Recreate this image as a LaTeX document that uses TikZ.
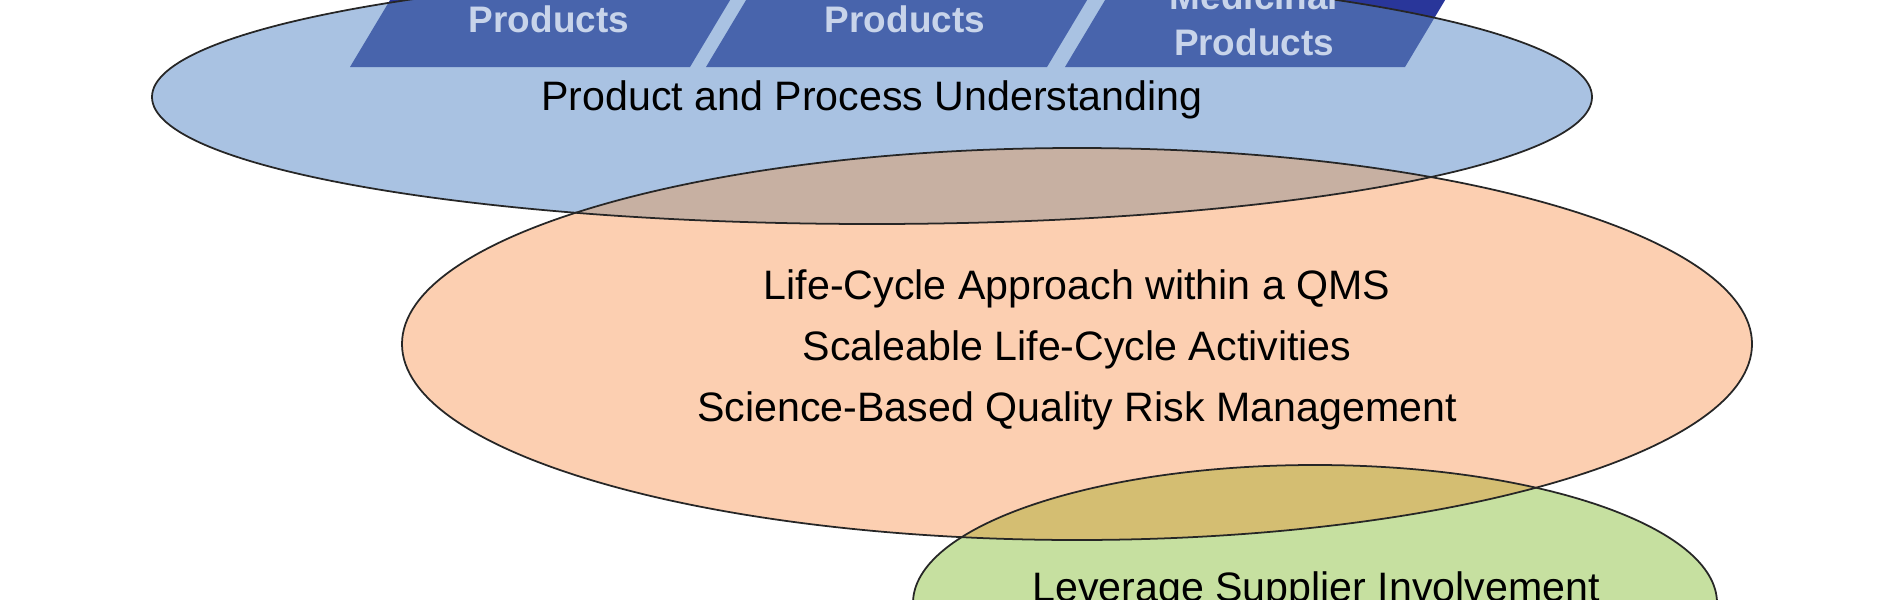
\documentclass[tikz,border=0pt]{standalone}
\usepackage{fontspec}
\setmainfont{Liberation Sans}
\definecolor{bluefill}{HTML}{A9C2E2}
\definecolor{orangefill}{HTML}{FCCFB1}
\definecolor{overlapbo}{HTML}{C7B0A2}
\definecolor{greenfill}{HTML}{C6E0A0}
\definecolor{overlapgo}{HTML}{D4BE72}
\definecolor{pardark}{HTML}{29369A}
\definecolor{parmid}{HTML}{4864AC}
\definecolor{partext}{HTML}{C8D4EA}
\tikzset{
  outline/.style={draw=black!85, line width=0.5pt},
  maintext/.style={inner sep=0pt, anchor=base, font=\fontsize{11.7}{14}\selectfont, text=black},
  partxt/.style={inner sep=0pt, anchor=base, font=\fontsize{10.5}{13}\selectfont\bfseries, text=partext},
}
\begin{document}
\begin{tikzpicture}[x=0.01cm,y=-0.01cm]
\useasboundingbox (0,0) rectangle (1900,600);
\clip (0,0) rectangle (1900,600);
\fill[white] (0,0) rectangle (1900,600);
% parallelograms (dark part outside the ellipse)
\fill[pardark] (350,67) -- (690,67) -- (766,-60) -- (426,-60) -- cycle;
\fill[pardark] (706,67) -- (1047,67) -- (1123,-60) -- (782,-60) -- cycle;
\fill[pardark] (1065,67) -- (1405,67) -- (1481,-60) -- (1141,-60) -- cycle;
% blue ellipse with parallelograms inside
\begin{scope}
  \clip (872,97) ellipse [x radius=720, y radius=127];
  \fill[bluefill] (0,-200) rectangle (1900,600);
  \fill[parmid] (350,67) -- (690,67) -- (766,-60) -- (426,-60) -- cycle;
  \fill[parmid] (706,67) -- (1047,67) -- (1123,-60) -- (782,-60) -- cycle;
  \fill[parmid] (1065,67) -- (1405,67) -- (1481,-60) -- (1141,-60) -- cycle;
\end{scope}
% orange ellipse
\fill[orangefill] (1077,344) ellipse [x radius=675, y radius=196];
\begin{scope}
  \clip (872,97) ellipse [x radius=720, y radius=127];
  \fill[overlapbo] (1077,344) ellipse [x radius=675, y radius=196];
\end{scope}
% green ellipse
\fill[greenfill] (1315,603) ellipse [x radius=402, y radius=138];
\begin{scope}
  \clip (1077,344) ellipse [x radius=675, y radius=196];
  \fill[overlapgo] (1315,603) ellipse [x radius=402, y radius=138];
\end{scope}
% outlines
\draw[outline] (872,97) ellipse [x radius=720, y radius=127];
\draw[outline] (1077,344) ellipse [x radius=675, y radius=196];
\draw[outline] (1315,603) ellipse [x radius=402, y radius=138];
% texts
\node[partxt] (p1) at (549,32) {Products};
\node[partxt] (p2) at (905,32) {Products};
\node[partxt] (m3) at (1254,9) {Medicinal};
\node[partxt] (p3) at (1254,55) {Products};
\node[maintext] (ppu) at (872,110) {Product and Process Understanding};
\node[maintext] (lc1) at (1077,299) {Life-Cycle Approach within a QMS};
\node[maintext] (lc2) at (1077,360) {Scaleable Life-Cycle Activities};
\node[maintext] (lc3) at (1077,421) {Science-Based Quality Risk Management};
\node[maintext] (lsi) at (1316,601) {Leverage Supplier Involvement};
\end{tikzpicture}
\end{document}
